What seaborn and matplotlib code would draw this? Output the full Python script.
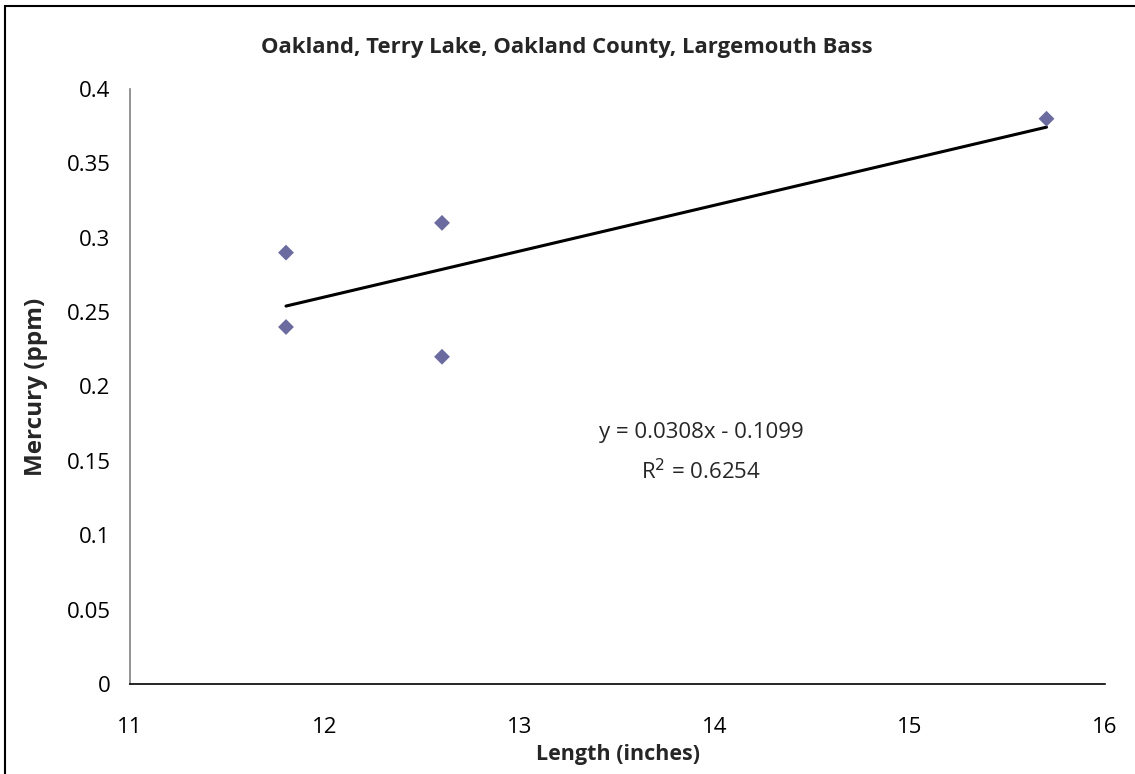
import numpy as np
import pandas as pd
import matplotlib
matplotlib.use('Agg')
import matplotlib.pyplot as plt
import seaborn as sns
from matplotlib.patches import Rectangle

# ------------------------------------------------------- #
#                          DATOS                          #
# ------------------------------------------------------- #
length_in = [11.8, 11.8, 12.6, 12.6, 15.7]
mercury_ppm = [0.29, 0.24, 0.31, 0.22, 0.38]

df = pd.DataFrame({'length': length_in, 'mercury': mercury_ppm})

# linear trendline (least squares)
slope, intercept = np.polyfit(df['length'], df['mercury'], 1)
r2 = np.corrcoef(df['length'], df['mercury'])[0, 1] ** 2
x_line = np.array([df['length'].min(), df['length'].max()])
trend = pd.DataFrame({'length': x_line, 'mercury': slope * x_line + intercept})

# ------------------------------------------------------- #
#                         GRAFICO                         #
# ------------------------------------------------------- #
sns.set_style('white')
plt.rcParams['font.family'] = ['Open Sans', 'DejaVu Sans']

fig = plt.figure(figsize=(11.35, 7.74), dpi=100)
ax = fig.add_axes([130 / 1135, 1 - 684 / 774, 975 / 1135, 595 / 774])

sns.lineplot(data=trend, x='length', y='mercury', ax=ax, color='black', linewidth=2.2)
sns.scatterplot(data=df, x='length', y='mercury', ax=ax, marker='D', s=65,
                color='#6B6B9F', edgecolor='none', zorder=3)

ax.set_xlim(11, 16)
ax.set_ylim(0, 0.4)
ax.set_xticks([11, 12, 13, 14, 15, 16])
ax.set_yticks(np.arange(0, 0.401, 0.05))
ax.set_yticklabels(['0', '0.05', '0.1', '0.15', '0.2', '0.25', '0.3', '0.35', '0.4'])

for side in ['top', 'right']:
    ax.spines[side].set_visible(False)
ax.spines['bottom'].set_color('black')
ax.spines['left'].set_color('#808080')
ax.spines['bottom'].set_linewidth(1.2)
ax.spines['left'].set_linewidth(1.2)

ax.tick_params(axis='both', direction='out', length=6, width=1.2, color='#808080',
               labelsize=16, labelcolor='black')
ax.tick_params(axis='x', pad=18)
ax.tick_params(axis='y', pad=8)

ax.set_xlabel('Length (inches)', fontsize=15.5, fontweight='bold', labelpad=4)
ax.set_ylabel('Mercury (ppm)', fontsize=17.5, fontweight='bold', labelpad=13)

fig.text(567 / 1135, 1 - 53 / 774, 'Oakland, Terry Lake, Oakland County, Largemouth Bass',
         ha='center', va='baseline', fontsize=15.8, fontweight='bold')

ax.text(13.93, 0.1694, f'y = {slope:.4f}x - {abs(intercept):.4f}', ha='center', va='center', fontsize=16)
ax.text(13.93, 0.1425, f'R$^2$ = {r2:.4f}', ha='center', va='center', fontsize=16)

# chart area border
fig.patches.append(Rectangle((5 / 1135, -0.1), 1.2, 1 - 6 / 774 + 0.1, transform=fig.transFigure,
                             fill=False, edgecolor='black', linewidth=1.5))

plt.savefig('out.png', dpi=100)
